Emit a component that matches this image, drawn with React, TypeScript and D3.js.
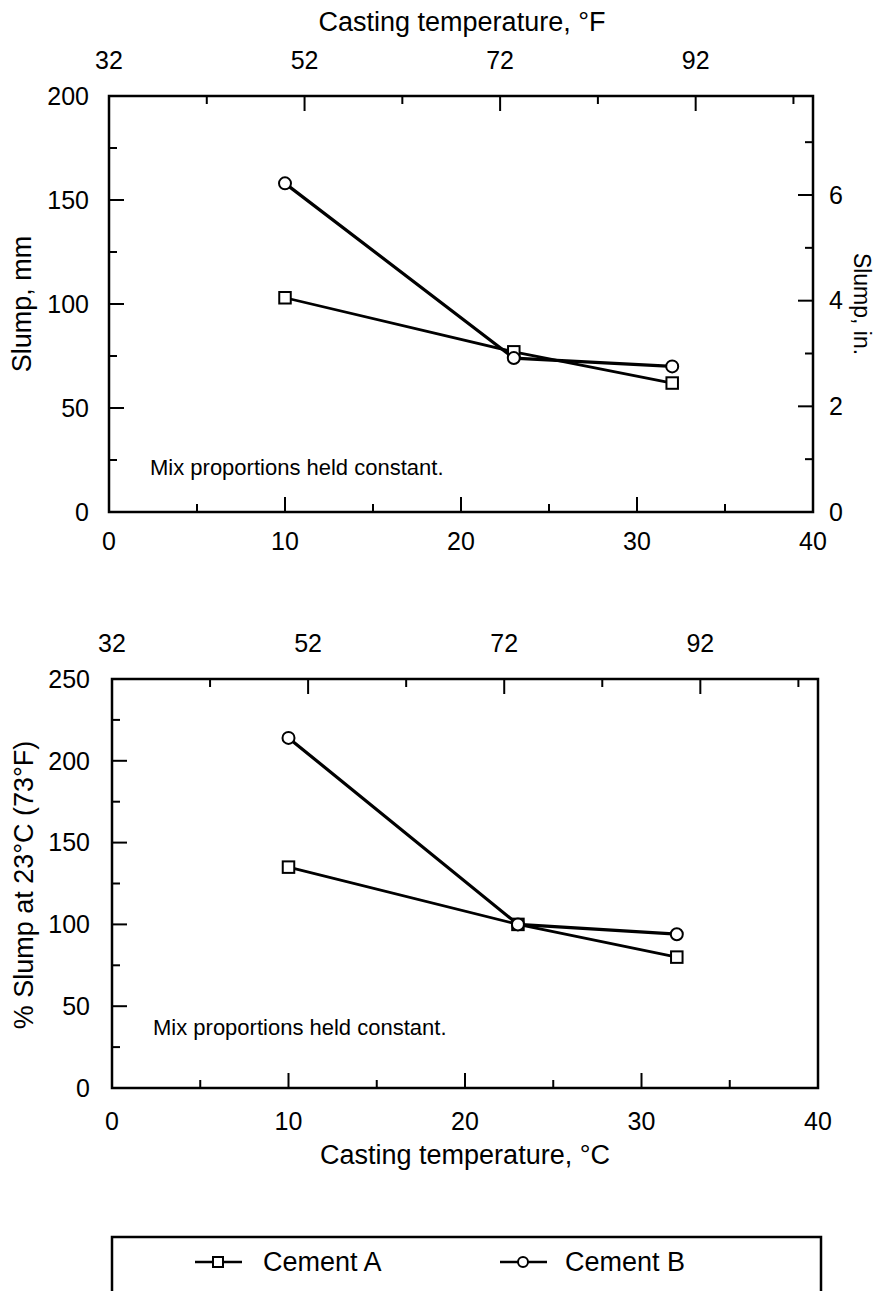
import React from 'react';
import * as d3 from 'd3';

const temps = [10, 23, 32];
const slumpA = [103, 77, 62];
const slumpB = [158, 74, 70];
const pctA = [135, 100, 80];
const pctB = [214, 100, 94];

const xTicksC = [0, 10, 20, 30, 40];
const xMinorC = [5, 15, 25, 35];
const fTicks = [32, 52, 72, 92];
const fMinor = [42, 62, 82, 102];
const mmTicks = [0, 50, 100, 150, 200];
const mmMinor = [25, 75, 125, 175];
const inTicks = [0, 2, 4, 6];
const inMinor = [1, 3, 5, 7];
const pctTicks = [0, 50, 100, 150, 200, 250];
const pctMinor = [25, 75, 125, 175, 225];

const FONT = '"Liberation Sans", Arial, Helvetica, sans-serif';
const W = 878;
const H = 1291;
const fToC = (f: number) => ((f - 32) * 5) / 9;

function Markers({ x, y, a, b }: any) {
  const line = d3.line<number>().x((_, i) => x(temps[i])).y(d => y(d));
  return (
    <g>
      <path d={line(a) || ''} fill="none" stroke="#000" strokeWidth={2.8} />
      <path d={line(b) || ''} fill="none" stroke="#000" strokeWidth={3.2} />
      {a.map((v: number, i: number) => (
        <rect key={'a' + i} x={x(temps[i]) - 5.75} y={y(v) - 5.75} width={11.5} height={11.5}
          fill="#fff" stroke="#000" strokeWidth={2} />
      ))}
      {b.map((v: number, i: number) => (
        <circle key={'b' + i} cx={x(temps[i])} cy={y(v)} r={6}
          fill="#fff" stroke="#000" strokeWidth={2} />
      ))}
    </g>
  );
}

function Frame({ x, y, yTicks, yMinor, rightScale, rTicks, rMinor }: any) {
  const [x0, x1] = x.range();
  const [y0, y1] = y.range();
  const major = 15, minor = 8;
  return (
    <g stroke="#000" strokeWidth={2}>
      <rect x={x0} y={y1} width={x1 - x0} height={y0 - y1} fill="none" strokeWidth={2.5} />
      {xTicksC.map(t => <line key={'xb' + t} x1={x(t)} x2={x(t)} y1={y0} y2={y0 - major} />)}
      {xMinorC.map(t => <line key={'xbm' + t} x1={x(t)} x2={x(t)} y1={y0} y2={y0 - minor} />)}
      {fTicks.map(t => <line key={'ft' + t} x1={x(fToC(t))} x2={x(fToC(t))} y1={y1} y2={y1 + major} />)}
      {fMinor.map(t => <line key={'fm' + t} x1={x(fToC(t))} x2={x(fToC(t))} y1={y1} y2={y1 + minor} />)}
      {yTicks.map((t: number) => <line key={'yl' + t} x1={x0} x2={x0 + major} y1={y(t)} y2={y(t)} />)}
      {yMinor.map((t: number) => <line key={'ylm' + t} x1={x0} x2={x0 + minor} y1={y(t)} y2={y(t)} />)}
      {rightScale && rTicks.map((t: number) => (
        <line key={'yr' + t} x1={x1} x2={x1 - major} y1={rightScale(t)} y2={rightScale(t)} />
      ))}
      {rightScale && rMinor.map((t: number) => (
        <line key={'yrm' + t} x1={x1} x2={x1 - minor} y1={rightScale(t)} y2={rightScale(t)} />
      ))}
    </g>
  );
}

export default function App() {
  // top panel: mm on the left, inches on the right
  const x1 = d3.scaleLinear().domain([0, 40]).range([109, 813]);
  const y1 = d3.scaleLinear().domain([0, 200]).range([512, 96]);
  const yIn = d3.scaleLinear().domain([0, 200 / 25.4]).range([512, 96]);
  // bottom panel: percent of slump at 23 C
  const x2 = d3.scaleLinear().domain([0, 40]).range([112, 818]);
  const y2 = d3.scaleLinear().domain([0, 250]).range([1088, 679]);

  const tick = { fontFamily: FONT, fontSize: 25, fill: '#000' };
  const title = { fontFamily: FONT, fontSize: 27, fill: '#000' };

  return (
    <svg width={W} height={H} style={{ position: 'absolute', left: 0, top: 0, background: '#fff' }}>
      {/* top panel */}
      <text x={462} y={31} textAnchor="middle" {...title}>Casting temperature, °F</text>
      {fTicks.map(t => (
        <text key={'f1' + t} x={x1(fToC(t))} y={69} textAnchor="middle" {...tick}>{t}</text>
      ))}
      {mmTicks.map(t => (
        <text key={'mm' + t} x={89} y={y1(t)} dy="0.35em" textAnchor="end" {...tick}>{t}</text>
      ))}
      {inTicks.map(t => (
        <text key={'in' + t} x={829} y={yIn(t)} dy="0.35em" textAnchor="start" {...tick}>{t}</text>
      ))}
      {xTicksC.map(t => (
        <text key={'xc1' + t} x={x1(t)} y={550} textAnchor="middle" {...tick}>{t}</text>
      ))}
      <text transform="translate(31,304) rotate(-90)" textAnchor="middle" {...title}>Slump, mm</text>
      <text transform="translate(854,304) rotate(90)" textAnchor="middle" {...tick} fontSize={23}>Slump, in.</text>
      <text x={150} y={475} fontFamily={FONT} fontSize={22}>Mix proportions held constant.</text>
      <Frame x={x1} y={y1} yTicks={mmTicks} yMinor={mmMinor} rightScale={yIn} rTicks={inTicks} rMinor={inMinor} />
      <Markers x={x1} y={y1} a={slumpA} b={slumpB} />

      {/* bottom panel */}
      {fTicks.map(t => (
        <text key={'f2' + t} x={x2(fToC(t))} y={652} textAnchor="middle" {...tick}>{t}</text>
      ))}
      {pctTicks.map(t => (
        <text key={'p' + t} x={90} y={y2(t)} dy="0.35em" textAnchor="end" {...tick}>{t}</text>
      ))}
      {xTicksC.map(t => (
        <text key={'xc2' + t} x={x2(t)} y={1130} textAnchor="middle" {...tick}>{t}</text>
      ))}
      <text x={465} y={1164} textAnchor="middle" {...title}>Casting temperature, °C</text>
      <text transform="translate(33,885) rotate(-90)" textAnchor="middle" {...title}>% Slump at 23°C (73°F)</text>
      <text x={153} y={1035} fontFamily={FONT} fontSize={22}>Mix proportions held constant.</text>
      <Frame x={x2} y={y2} yTicks={pctTicks} yMinor={pctMinor} rightScale={null} rTicks={[]} rMinor={[]} />
      <Markers x={x2} y={y2} a={pctA} b={pctB} />

      {/* legend */}
      <path d="M112,1300 V1237 H821 V1300" fill="none" stroke="#000" strokeWidth={2.5} />
      <line x1={195} x2={242} y1={1262} y2={1262} stroke="#000" strokeWidth={2.5} />
      <rect x={213} y={1257} width={10} height={10} fill="#fff" stroke="#000" strokeWidth={2} />
      <text x={263} y={1271} {...title}>Cement A</text>
      <line x1={500} x2={547} y1={1262} y2={1262} stroke="#000" strokeWidth={2.5} />
      <circle cx={523} cy={1262} r={5} fill="#fff" stroke="#000" strokeWidth={2} />
      <text x={565} y={1271} {...title}>Cement B</text>
    </svg>
  );
}
